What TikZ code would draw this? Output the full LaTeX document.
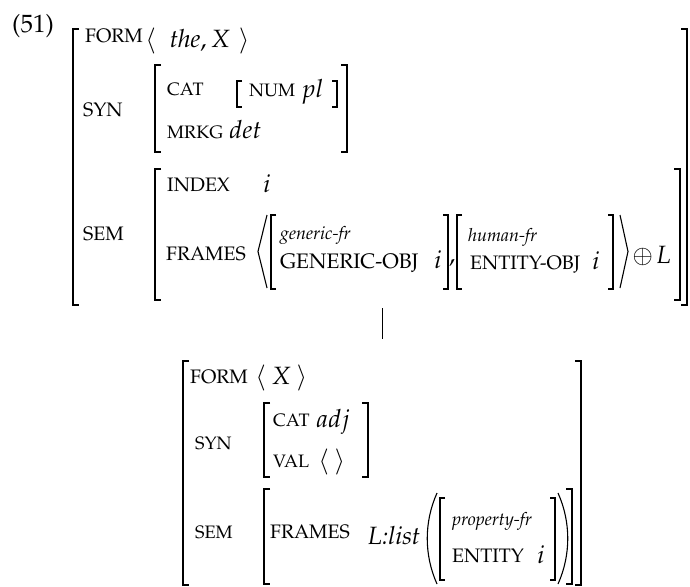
\documentclass[tikz,border=0pt]{standalone}
\usepackage[T1]{fontenc}
\usepackage[sc]{mathpazo}
\usepackage{amsmath}
\usepackage{tikz}

\begin{document}
\begin{tikzpicture}[line cap=butt,line join=miter,x=1pt,y=-1pt,
  lab/.style={anchor=base west,inner sep=0pt,font=\fontsize{18}{20}\selectfont},
  labc/.style={anchor=base west,inner sep=0pt,font=\fontsize{19.5}{22}\selectfont},
  val/.style={anchor=base west,inner sep=0pt,font=\fontsize{25}{27}\selectfont},
  typ/.style={anchor=base west,inner sep=0pt,font=\fontsize{18}{20}\selectfont\itshape},
  brk/.style={line width=1.4pt},
  ang/.style={line width=1.1pt}]
\useasboundingbox (0,0) rectangle (690,586);
\node[val] (exnum) at (12,33) {(51)};
\draw[brk] (79,29) -- (73,29) -- (73,305) -- (79,305);
\draw[brk] (681,29) -- (687,29) -- (687,305) -- (681,305);
\node[labc] (form1) at (85,43) {FORM};
\node[val] (form1v) at (145,48) {$\langle\mkern10mu\mathit{the},X\mkern6mu\rangle$};
\node[labc] (syn1) at (83,116) {SYN};
\draw[brk] (161,65) -- (155,65) -- (155,152) -- (161,152);
\draw[brk] (341,65) -- (347,65) -- (347,152) -- (341,152);
\node[lab] (cat1) at (167,95) {CAT};
\draw[brk] (242,81) -- (237,81) -- (237,107) -- (242,107);
\draw[brk] (332,81) -- (337,81) -- (337,107) -- (332,107);
\node[lab] (num1) at (249,96) {NUM};
\node[val] (num1v) at (301,97) {$pl$};
\node[lab] (mrkg1) at (167,138) {MRKG};
\node[val] (mrkg1v) at (229,138) {$det$};
\node[labc] (sem1) at (83,240) {SEM};
\draw[brk] (161,169) -- (155,169) -- (155,300) -- (161,300);
\draw[brk] (674,169) -- (680,169) -- (680,300) -- (674,300);
\node[labc] (index1) at (167,191) {INDEX};
\node[val] (index1v) at (263,192) {$i$};
\node[labc] (frames1) at (166,260) {FRAMES};
\draw[ang] (267,215) -- (258,251.5) -- (267,288);
\draw[brk] (276,215) -- (271,215) -- (271,289) -- (276,289);
\node[typ] (gen) at (280,239) {generic-fr};
\node[labc,font=\fontsize{21}{23}\selectfont] (genobj) at (280,268) {GENERIC-OBJ};
\node[val] (genobjv) at (434,268) {$i$};
\draw[brk] (443,215) -- (448,215) -- (448,289) -- (443,289);
\node[val] (comma) at (449,262) {,};
\draw[brk] (462,215) -- (457,215) -- (457,289) -- (462,289);
\node[typ] (hum) at (468,241) {human-fr};
\node[labc] (entobj) at (470,269) {ENTITY-OBJ};
\node[val] (entobjv) at (592,269) {$i$};
\draw[brk] (608,215) -- (613,215) -- (613,289) -- (608,289);
\draw[ang] (620,215) -- (628,251.5) -- (620,288);
\node[val] (app) at (632,263) {$\oplus\mkern2mu L$};
\coordinate (mother) at (382,308);
\coordinate (daughter) at (382,339);
\draw[line width=1pt] (mother) -- (daughter);
\draw[brk] (189,361) -- (183,361) -- (183,585) -- (189,585);
\draw[brk] (575,361) -- (581,361) -- (581,585) -- (575,585);
\node[labc] (form2) at (190,383) {FORM};
\node[val] (form2v) at (255,384) {$\langle\mkern4mu X\mkern4mu\rangle$};
\node[lab] (syn2) at (195,449) {SYN};
\draw[brk] (270,403) -- (264,403) -- (264,477) -- (270,477);
\draw[brk] (362,403) -- (368,403) -- (368,477) -- (362,477);
\node[lab] (cat2) at (273,426) {CAT};
\node[val] (cat2v) at (316,427) {$adj$};
\node[lab] (val2) at (273,467) {VAL};
\node[val] (val2v) at (318,468) {$\langle\mkern4mu\rangle$};
\node[lab] (sem2) at (195,538) {SEM};
\draw[brk] (270,489) -- (264,489) -- (264,584) -- (270,584);
\draw[brk] (566,489) -- (572,489) -- (572,584) -- (566,584);
\node[labc] (frames2) at (270,538) {FRAMES};
\node[val] (frames2v) at (368,544) {\textit{L:list}};
\draw[ang] (437,493) .. controls (424,522) and (424,555) .. (437,584);
\draw[brk] (445,498) -- (440,498) -- (440,580) -- (445,580);
\node[typ] (prop) at (452,525) {property-fr};
\node[labc] (ent) at (452,562) {ENTITY};
\node[val] (entv) at (537,563) {$i$};
\draw[brk] (550,498) -- (555,498) -- (555,580) -- (550,580);
\draw[ang] (558,493) .. controls (571,522) and (571,555) .. (558,584);
\end{tikzpicture}
\end{document}
